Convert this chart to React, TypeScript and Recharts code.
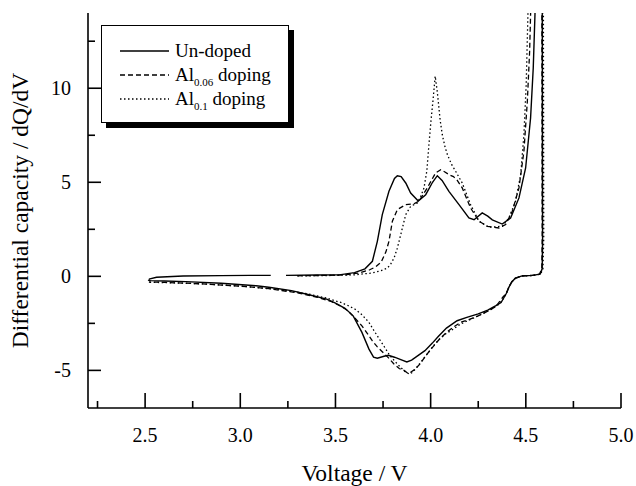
import React from 'react';
import { LineChart, Line, XAxis, YAxis, Legend } from 'recharts';

// axis ticks
const xMajor = [2.5, 3.0, 3.5, 4.0, 4.5, 5.0];
const xMinor = [2.25, 2.75, 3.25, 3.75, 4.25, 4.75];
const yMajor = [-5, 0, 5, 10];
const yMinor = [-2.5, 2.5, 7.5, 12.5];

// Un-doped (solid), charge then discharge; null = gap in the trace
const undopedV = [2.52, 2.56, 2.7, 2.9, 3.05, 3.16, 3.2, 3.24, 3.4, 3.52, 3.6, 3.655, 3.694, 3.72, 3.746, 3.781, 3.81, 3.825, 3.845, 3.87, 3.895, 3.935, 3.974, 4.01, 4.035, 4.06, 4.096, 4.149, 4.201, 4.228, 4.271, 4.3, 4.324, 4.376, 4.42, 4.464, 4.499, 4.525, 4.539, 4.548, 4.556,
  4.586, 4.588, 4.586, 4.575, 4.534, 4.48, 4.445, 4.426, 4.41, 4.398, 4.37, 4.343, 4.3, 4.25, 4.19, 4.139, 4.083, 4.04, 4.009, 3.97, 3.935, 3.9, 3.875, 3.85, 3.81, 3.778, 3.755, 3.72, 3.7, 3.676, 3.639, 3.593, 3.55, 3.5, 3.454, 3.35, 3.269, 3.15, 3.083, 2.9, 2.713, 2.6, 2.528, 2.515];
const undopedQ = [-0.15, -0.05, 0.02, 0.04, 0.05, 0.05, null, 0.05, 0.07, 0.08, 0.2, 0.4, 0.8, 1.86, 3.28, 4.52, 5.2, 5.35, 5.3, 4.95, 4.43, 4.0, 4.34, 5.0, 5.35, 5.1, 4.52, 3.81, 3.1, 3.01, 3.37, 3.2, 3.0, 2.78, 3.1, 4.17, 5.76, 8.42, 11.08, 13.9, 17,
  17, 2.0, 0.4, 0.12, 0.05, 0.02, -0.1, -0.3, -0.6, -0.9, -1.39, -1.56, -1.8, -2.0, -2.18, -2.36, -2.75, -3.2, -3.55, -3.95, -4.2, -4.45, -4.55, -4.45, -4.3, -4.2, -4.25, -4.35, -4.3, -3.87, -2.98, -2.1, -1.7, -1.42, -1.21, -0.95, -0.76, -0.58, -0.5, -0.37, -0.28, -0.25, -0.23, -0.2];

// Al0.06 doping (dashed)
const al006V = [3.3, 3.45, 3.55, 3.624, 3.68, 3.711, 3.74, 3.765, 3.781, 3.799, 3.825, 3.869, 3.912, 3.939, 3.982, 4.026, 4.053, 4.075, 4.096, 4.12, 4.14, 4.166, 4.21, 4.254, 4.298, 4.359, 4.394, 4.429, 4.464, 4.49, 4.508, 4.52, 4.525, 4.53,
  4.584, 4.586, 4.584, 4.572, 4.534, 4.48, 4.445, 4.426, 4.41, 4.398, 4.38, 4.343, 4.3, 4.25, 4.2, 4.157, 4.12, 4.083, 4.05, 4.028, 4.0, 3.972, 3.945, 3.917, 3.895, 3.88, 3.86, 3.835, 3.806, 3.78, 3.75, 3.72, 3.694, 3.665, 3.639, 3.6, 3.565, 3.53, 3.48, 3.4, 3.3, 3.15, 3.0, 2.8, 2.6, 2.52];
const al006Q = [0.03, 0.05, 0.08, 0.18, 0.35, 0.5, 0.75, 1.3, 1.86, 2.93, 3.55, 3.81, 3.85, 4.0, 4.7, 5.5, 5.67, 5.55, 5.41, 5.3, 5.1, 4.7, 3.63, 2.93, 2.66, 2.57, 2.75, 3.46, 4.7, 6.65, 9.31, 11.97, 13.9, 17,
  17, 2.0, 0.4, 0.12, 0.05, 0.02, -0.1, -0.3, -0.6, -0.9, -1.1, -1.6, -1.85, -2.1, -2.3, -2.45, -2.7, -2.98, -3.3, -3.55, -3.9, -4.25, -4.65, -4.95, -5.1, -5.15, -5.0, -4.9, -4.65, -4.35, -4.05, -3.75, -3.43, -3.0, -2.63, -2.2, -1.83, -1.6, -1.35, -1.1, -0.88, -0.65, -0.52, -0.4, -0.32, -0.3];

// Al0.1 doping (dotted)
const al01V = [3.3, 3.5, 3.6, 3.694, 3.74, 3.773, 3.79, 3.808, 3.825, 3.843, 3.869, 3.895, 3.93, 3.95, 3.965, 3.98, 3.991, 4.002, 4.012, 4.024, 4.035, 4.04, 4.05, 4.061, 4.075, 4.088, 4.11, 4.131, 4.166, 4.21, 4.254, 4.306, 4.376, 4.411, 4.446, 4.473, 4.49, 4.502, 4.511, 4.516,
  4.592, 4.594, 4.59, 4.578, 4.54, 4.48, 4.445, 4.426, 4.41, 4.398, 4.385, 4.361, 4.32, 4.287, 4.24, 4.194, 4.155, 4.12, 4.08, 4.046, 4.01, 3.981, 3.95, 3.926, 3.905, 3.889, 3.87, 3.843, 3.815, 3.787, 3.76, 3.731, 3.7, 3.676, 3.64, 3.602, 3.565, 3.528, 3.45, 3.35, 3.2, 3.0, 2.8, 2.6, 2.52];
const al01Q = [0.02, 0.05, 0.08, 0.18, 0.3, 0.44, 0.65, 0.98, 1.5, 2.22, 3.28, 3.72, 3.9, 4.3, 4.7, 5.6, 7.0, 8.3, 9.31, 10.64, 9.8, 9.31, 8.3, 7.54, 6.9, 6.47, 5.95, 5.59, 4.96, 3.81, 2.93, 2.61, 2.66, 3.1, 3.99, 5.41, 7.54, 10.2, 13.9, 17,
  17, 2.0, 0.4, 0.12, 0.05, 0.02, -0.1, -0.3, -0.6, -0.9, -1.15, -1.47, -1.75, -1.92, -2.15, -2.36, -2.55, -2.8, -3.05, -3.34, -3.75, -4.14, -4.55, -4.85, -5.1, -5.2, -5.1, -4.85, -4.55, -4.23, -3.8, -3.34, -2.85, -2.45, -2.05, -1.74, -1.55, -1.39, -1.15, -0.92, -0.7, -0.52, -0.4, -0.33, -0.32];

// legend text: base, subscript, tail
const legendBase = ['Un-doped', 'Al', 'Al'];
const legendSub = ['', '0.06', '0.1'];
const legendTail = ['', ' doping', ' doping'];
const dashes = ['', '5 3', '1.5 2.5'];

const toRows = (vs: number[], qs: (number | null)[]) => vs.map((v, i) => ({ v, q: qs[i] }));

const FONT = 'Liberation Serif, Tinos, Times New Roman, Times, DejaVu Serif, serif';
const STROKE = 1.6;

const xTicks = [...xMajor, ...xMinor].sort((a, b) => a - b);
const yTicks = [...yMajor, ...yMinor].sort((a, b) => a - b);

function BottomTick(props: any) {
  const { x, y, payload } = props;
  const major = xMajor.includes(payload.value);
  return (
    <g>
      <line x1={x} x2={x} y1={y} y2={y - (major ? 15 : 7)} stroke="#000" strokeWidth={STROKE} />
      {major && (
        <text x={x} y={y + 34} textAnchor="middle" fontSize={20} style={{ fontFamily: FONT }} fill="#000">
          {payload.value.toFixed(1)}
        </text>
      )}
    </g>
  );
}

function TopTick(props: any) {
  const { x, y, payload } = props;
  const major = xMajor.includes(payload.value);
  return <line x1={x} x2={x} y1={y} y2={y + (major ? 13 : 7)} stroke="#000" strokeWidth={STROKE} />;
}

function LeftTick(props: any) {
  const { x, y, payload } = props;
  const major = yMajor.includes(payload.value);
  return (
    <g>
      <line x1={x} x2={x + (major ? 13 : 7)} y1={y} y2={y} stroke="#000" strokeWidth={STROKE} />
      {major && (
        <text x={x - 17} y={y + 7} textAnchor="end" fontSize={20} style={{ fontFamily: FONT }} fill="#000">
          {payload.value}
        </text>
      )}
    </g>
  );
}

function RightTick(props: any) {
  const { x, y, payload } = props;
  const major = yMajor.includes(payload.value);
  return <line x1={x} x2={x - (major ? 13 : 7)} y1={y} y2={y} stroke="#000" strokeWidth={STROKE} />;
}

function LegendBox() {
  return (
    <div
      style={{
        width: 186,
        height: 96,
        border: '1.5px solid #000',
        background: '#fff',
        boxShadow: '5px 5px 0 #000',
        fontFamily: FONT,
        fontSize: 19,
        color: '#000',
        position: 'relative',
      }}
    >
      {legendBase.map((b, i) => (
        <div key={i} style={{ position: 'absolute', left: 0, top: 13 + i * 24, height: 24, display: 'flex', alignItems: 'center' }}>
          <svg width={68} height={24} style={{ display: 'block' }}>
            <line x1={18} x2={67} y1={12} y2={12} stroke="#000" strokeWidth={1.3} strokeDasharray={dashes[i] || undefined} />
          </svg>
          <span style={{ marginLeft: 5, whiteSpace: 'nowrap', lineHeight: '24px', fontFamily: FONT }}>
            {b}
            {legendSub[i] && <sub style={{ fontSize: 11, verticalAlign: '-5px', lineHeight: 0 }}>{legendSub[i]}</sub>}
            {legendTail[i]}
          </span>
        </div>
      ))}
    </div>
  );
}

export default function App() {
  return (
    <div style={{ position: 'absolute', left: 0, top: 0, width: 636, height: 486, background: '#fff', fontFamily: FONT }}>
      <LineChart width={636} height={486} margin={{ top: 13, right: 15, bottom: 0, left: 0 }} style={{ fontFamily: FONT }}>
        <XAxis
          dataKey="v"
          type="number"
          domain={[2.2, 5.0]}
          allowDataOverflow
          ticks={xTicks}
          interval={0}
          height={78}
          tickSize={0}
          tickMargin={0}
          tickLine={false}
          tick={BottomTick}
          axisLine={{ stroke: '#000', strokeWidth: STROKE }}
          label={{
            content: (p: any) => {
              const vb = p.viewBox || { x: 88, y: 408, width: 533, height: 78 };
              return (
                <text x={vb.x + vb.width / 2} y={481} textAnchor="middle" fontSize={23.5} style={{ fontFamily: FONT }} fill="#000">
                  Voltage / V
                </text>
              );
            },
          }}
        />
        <XAxis
          xAxisId="top"
          orientation="top"
          dataKey="v"
          type="number"
          domain={[2.2, 5.0]}
          allowDataOverflow
          ticks={xTicks}
          interval={0}
          height={0}
          tickSize={0}
          tickMargin={0}
          tickLine={false}
          tick={TopTick}
          axisLine={{ stroke: '#000', strokeWidth: STROKE }}
        />
        <YAxis
          type="number"
          domain={[-7, 14]}
          allowDataOverflow
          ticks={yTicks}
          interval={0}
          width={88}
          tickSize={0}
          tickMargin={0}
          tickLine={false}
          tick={LeftTick}
          axisLine={{ stroke: '#000', strokeWidth: STROKE }}
          label={{
            content: (p: any) => {
              const vb = p.viewBox || { x: 0, y: 13, width: 88, height: 395 };
              const cx = 28;
              const cy = vb.y + vb.height / 2;
              return (
                <text x={cx} y={cy} transform={`rotate(-90, ${cx}, ${cy})`} textAnchor="middle" fontSize={23.5} style={{ fontFamily: FONT }} fill="#000">
                  Differential capacity / dQ/dV
                </text>
              );
            },
          }}
        />
        <YAxis
          yAxisId="right"
          orientation="right"
          type="number"
          domain={[-7, 14]}
          allowDataOverflow
          ticks={yTicks}
          interval={0}
          width={0}
          tickSize={0}
          tickMargin={0}
          tickLine={false}
          tick={RightTick}
          axisLine={{ stroke: '#000', strokeWidth: STROKE }}
        />
        <Legend
          layout="vertical"
          align="center"
          verticalAlign="middle"
          content={() => <LegendBox />}
          wrapperStyle={{ left: 101, top: 25, width: 'auto', height: 'auto' }}
        />
        <Line
          data={toRows(undopedV, undopedQ)}
          dataKey="q"
          name="Un-doped"
          type="linear"
          stroke="#000"
          strokeWidth={1.4}
          dot={false}
          activeDot={false}
          isAnimationActive={false}
        />
        <Line
          data={toRows(al006V, al006Q)}
          dataKey="q"
          name="Al0.06 doping"
          type="linear"
          stroke="#000"
          strokeWidth={1.3}
          strokeDasharray="5 3"
          dot={false}
          activeDot={false}
          isAnimationActive={false}
        />
        <Line
          data={toRows(al01V, al01Q)}
          dataKey="q"
          name="Al0.1 doping"
          type="linear"
          stroke="#000"
          strokeWidth={1.3}
          strokeDasharray="1.5 2.5"
          dot={false}
          activeDot={false}
          isAnimationActive={false}
        />
      </LineChart>
    </div>
  );
}
